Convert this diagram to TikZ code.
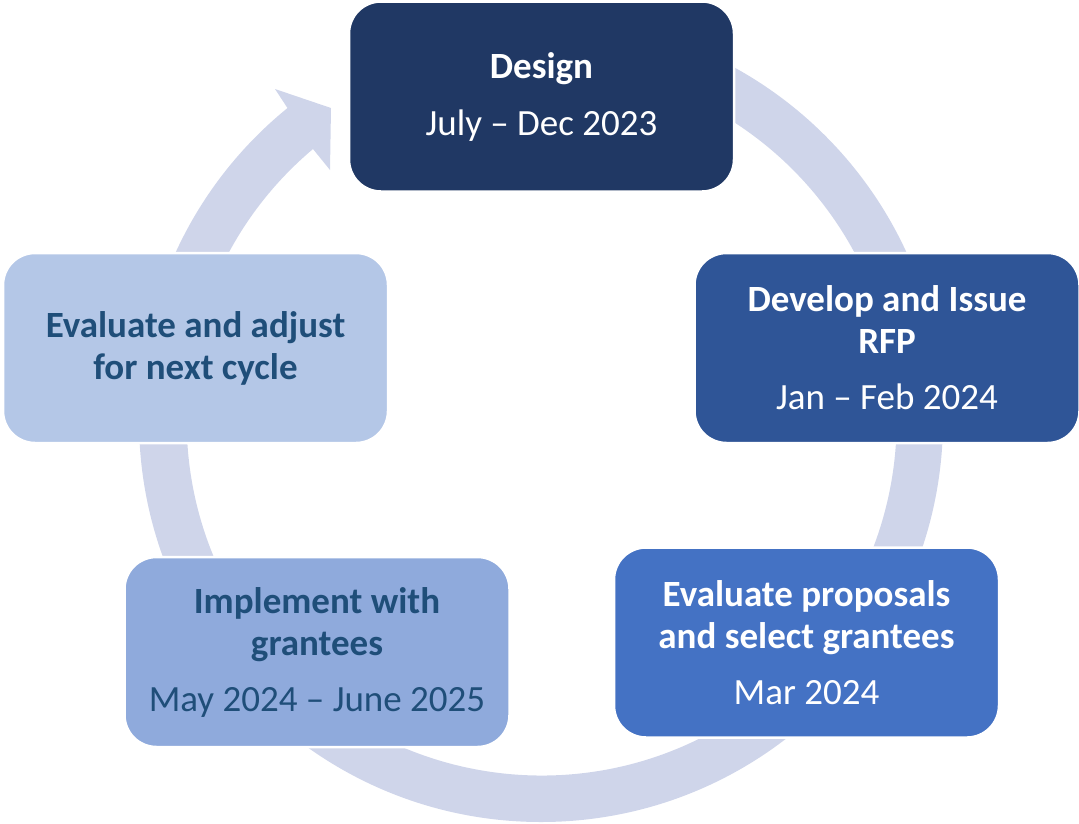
\documentclass[tikz,border=0pt]{standalone}
\usepackage{fontspec}
\setmainfont{Carlito}
\definecolor{ring}{HTML}{CFD5EA}
\definecolor{cA}{HTML}{203864}
\definecolor{cB}{HTML}{2F5597}
\definecolor{cC}{HTML}{4472C4}
\definecolor{cD}{HTML}{8FAADC}
\definecolor{cE}{HTML}{B4C7E7}
\definecolor{darktext}{HTML}{1F4E79}
\tikzset{
  stagebox/.style={rectangle, rounded corners=32pt, minimum width=385pt, minimum height=190pt,
    draw=white, line width=2.5pt, align=center, text=white,
    font=\fontsize{37}{42}\selectfont, inner sep=0pt},
  lightbox/.style={stagebox, text=darktext}
}
\begin{document}
\begin{tikzpicture}[x=1pt,y=1pt]
\useasboundingbox (0,0) rectangle (1079,-823);
\coordinate (C) at (541,-420);
% circular arrow ring
\fill[ring] (C) ++(90:402) arc[start angle=90, end angle=-230.9, radius=402]
  -- (275,-89) -- (331,-108) -- (330,-170) -- (313,-149)
  arc[start angle=-229.9, end angle=90, radius=355] -- cycle;
% stages
\node[stagebox, fill=cA] (design) at (541.5,-96.5) {\textbf{Design}\\[15pt]July – Dec 2023};
\node[stagebox, fill=cB] (develop) at (887,-348) {\textbf{Develop and Issue}\\\textbf{RFP}\\[14pt]Jan – Feb 2024};
\node[stagebox, fill=cC] (evalprop) at (806.5,-642.5) {\textbf{Evaluate proposals}\\\textbf{and select grantees}\\[14pt]Mar 2024};
\node[lightbox, fill=cD] (implement) at (317,-652) {\textbf{Implement with}\\\textbf{grantees}\\[14pt]May 2024 – June 2025};
\node[lightbox, fill=cE] (evaladj) at (195.5,-348) {\textbf{Evaluate and adjust}\\\textbf{for next cycle}};
\end{tikzpicture}
\end{document}
